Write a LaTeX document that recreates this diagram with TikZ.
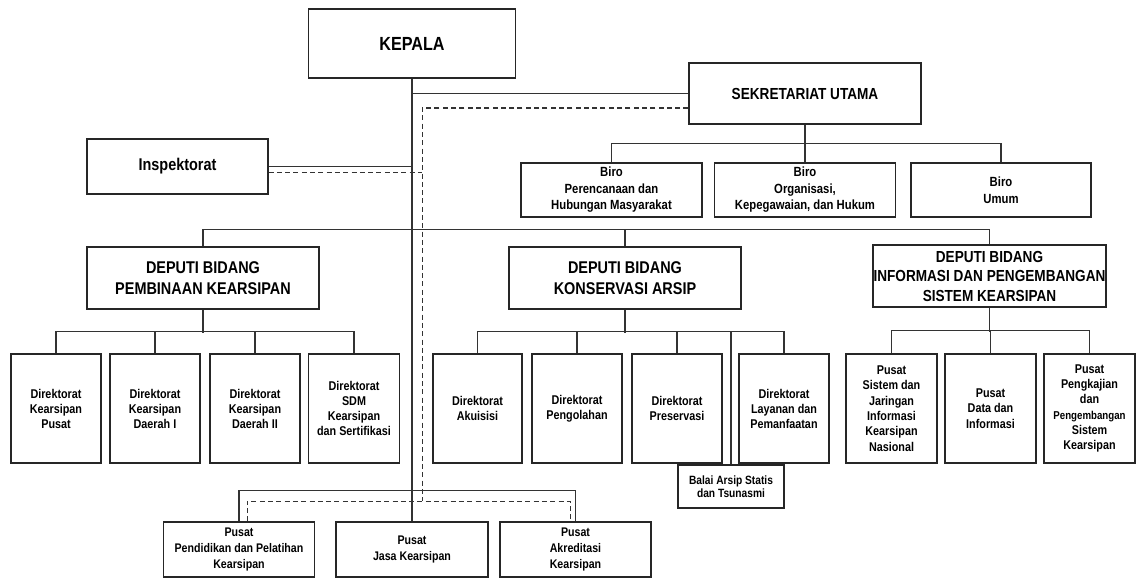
\documentclass[tikz,border=0pt]{standalone}
\usepackage{fontspec}
\newfontfamily\nar[FakeStretch=0.85]{Liberation Sans}
\begin{document}
\begin{tikzpicture}[x=1pt,y=-1pt,
  box/.style={draw=black!85,line width=1.1pt,fill=white,inner sep=0pt,align=center,text=black},
  conn/.style={draw=black!80,line width=1.1pt},
  dconn/.style={draw=black!80,line width=1pt,dash pattern=on 5pt off 3.3pt},
  fk/.style={font=\nar\bfseries\fontsize{19}{22}\selectfont},
  fdep/.style={font=\nar\bfseries\fontsize{17}{21}\selectfont},
  fdepi/.style={font=\nar\bfseries\fontsize{16}{19.5}\selectfont},
  fins/.style={font=\nar\bfseries\fontsize{17}{20}\selectfont},
  fbiro/.style={font=\nar\bfseries\fontsize{13.3}{16.5}\selectfont},
  fdir/.style={font=\nar\bfseries\fontsize{12.7}{15}\selectfont},
  fpus/.style={font=\nar\bfseries\fontsize{12.5}{16}\selectfont},
  fpi/.style={font=\nar\bfseries\fontsize{12.7}{15.3}\selectfont},
  fbal/.style={font=\nar\bfseries\fontsize{12}{13.5}\selectfont}]
\useasboundingbox[fill=white] (0,0) rectangle (1136,578);

% top level
\node[box,fk,minimum width=207pt,minimum height=69pt] (kepala) at (412,43.5) {KEPALA};
\node[box,fdepi,minimum width=232pt,minimum height=61pt] (sek) at (805,93.5) {SEKRETARIAT UTAMA};
\node[box,fins,minimum width=181pt,minimum height=55pt] (insp) at (177.5,166.5) {Inspektorat};

% biro
\node[box,fbiro,minimum width=181pt,minimum height=54pt] (biro1) at (611.5,190) {Biro\\Perencanaan dan\\Hubungan Masyarakat};
\node[box,fbiro,minimum width=181pt,minimum height=54pt] (biro2) at (805,190) {Biro\\Organisasi,\\Kepegawaian, dan Hukum};
\node[box,fbiro,minimum width=180pt,minimum height=54pt] (biro3) at (1001,190) {Biro\\Umum};

% deputies
\node[box,fdep,minimum width=232pt,minimum height=62pt] (depP) at (203,278) {DEPUTI BIDANG\\PEMBINAAN KEARSIPAN};
\node[box,fdep,minimum width=232pt,minimum height=62pt] (depK) at (625,278) {DEPUTI BIDANG\\KONSERVASI ARSIP};
\node[box,fdepi,minimum width=233pt,minimum height=62pt] (depI) at (989.5,276) {DEPUTI BIDANG\\INFORMASI DAN PENGEMBANGAN\\SISTEM KEARSIPAN};

% direktorat pembinaan
\node[box,fdir,minimum width=90pt,minimum height=109pt] (d1) at (56,408.5) {Direktorat\\Kearsipan\\Pusat};
\node[box,fdir,minimum width=90pt,minimum height=109pt] (d2) at (155,408.5) {Direktorat\\Kearsipan\\Daerah I};
\node[box,fdir,minimum width=90pt,minimum height=109pt] (d3) at (255,408.5) {Direktorat\\Kearsipan\\Daerah II};
\node[box,fdir,minimum width=91pt,minimum height=109pt] (d4) at (354,408.5) {Direktorat\\SDM\\Kearsipan\\dan Sertifikasi};

% direktorat konservasi
\node[box,fdir,minimum width=89pt,minimum height=109pt] (k1) at (477.5,408.5) {Direktorat\\Akuisisi};
\node[box,fdir,minimum width=90pt,minimum height=109pt] (k2) at (577,408.5) {Direktorat\\Pengolahan};
\node[box,fdir,minimum width=90pt,minimum height=109pt] (k3) at (677,408.5) {Direktorat\\Preservasi};
\node[box,fdir,minimum width=90pt,minimum height=109pt] (k4) at (784,408.5) {Direktorat\\Layanan dan\\Pemanfaatan};
\node[box,fbal,minimum width=106pt,minimum height=43pt] (balai) at (731,486.5) {Balai Arsip Statis\\dan Tsunasmi};

% pusat informasi
\node[box,fpi,minimum width=91pt,minimum height=109pt] (p1) at (891.5,408.5) {Pusat\\Sistem dan\\Jaringan\\Informasi\\Kearsipan\\Nasional};
\node[box,fpi,minimum width=91pt,minimum height=109pt] (p2) at (990.5,408.5) {Pusat\\Data dan\\Informasi};
\node[box,fpi,minimum width=91pt,minimum height=109pt] (p3) at (1089.5,408.5) {Pusat\\Pengkajian\\dan\\{\fontsize{11.4}{15.3}\selectfont Pengembangan}\\Sistem\\Kearsipan};

% bottom pusat
\node[box,fpus,minimum width=151pt,minimum height=55pt] (ppl) at (239,549.5) {Pusat\\Pendidikan dan Pelatihan\\Kearsipan};
\node[box,fpus,minimum width=152pt,minimum height=55pt] (jasa) at (412,549.5) {Pusat\\Jasa Kearsipan};
\node[box,fpus,minimum width=151pt,minimum height=55pt] (akr) at (575.5,549.5) {Pusat\\Akreditasi\\Kearsipan};

% coordinates for dashed line
\coordinate (dtop) at (422,108);
\coordinate (dins) at (422,172);
\coordinate (dbot) at (422,501);
\coordinate (dl) at (247,501);
\coordinate (dr) at (570,501);

% solid connectors
\draw[conn,line width=1.5pt] (kepala.south) -- (jasa.north);
\draw[conn] (sek.west) -- (sek.west -| kepala.south);
\draw[conn] (insp.east) -- (insp.east -| kepala.south);
\draw[conn] (sek.south) -- (biro2.north);
\draw[conn] (biro1.north) -- ++(0,-19) -| (biro3.north);
\draw[conn] (depP.north) -- ++(0,-17) -| (depI.north);
\draw[conn] (depK.north) -- ++(0,-17);
\draw[conn] (depP.south) -- ++(0,23);
\draw[conn] (d1.north) -- ++(0,-22) -| (d4.north);
\draw[conn] (d2.north) -- ++(0,-22);
\draw[conn] (d3.north) -- ++(0,-22);
\draw[conn] (depK.south) -- ++(0,23);
\draw[conn] (k1.north) -- ++(0,-22) -| (k4.north);
\draw[conn] (k2.north) -- ++(0,-22);
\draw[conn] (k3.north) -- ++(0,-22);
\draw[conn] (balai.north) -- (balai.north |- k1.north) -- ++(0,-22);
\draw[conn] (depI.south) -- ++(0,24);
\draw[conn] (p1.north) -- ++(0,-23) -| (p3.north);
\draw[conn] (p2.north) -- ++(0,-23);
\draw[conn] (ppl.north) -- ++(0,-31) -| (akr.north);

% dashed connectors
\draw[dconn] ([yshift=-14.5pt]sek.west) -- (dtop) -- (dbot);
\draw[dconn] ([yshift=-5.5pt]insp.east) -- (dins);
\draw[dconn] (ppl.north -| dl) -- (dl) -- (dr) -- (akr.north -| dr);
\end{tikzpicture}
\end{document}
